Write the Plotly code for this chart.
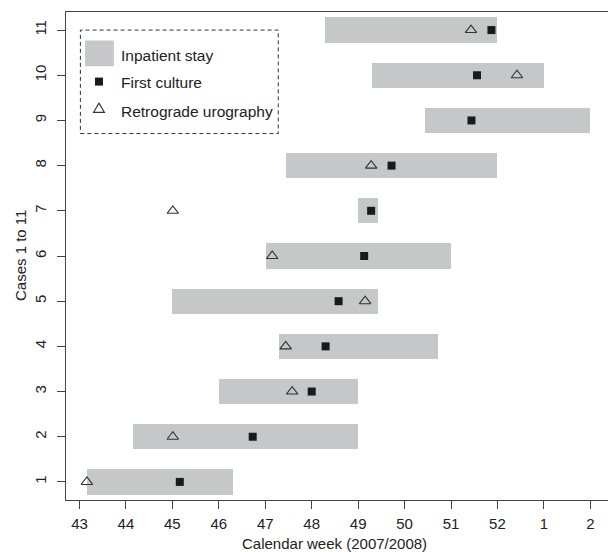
import plotly.graph_objects as go

cases = [1, 2, 3, 4, 5, 6, 7, 8, 9, 10, 11]
stay_start = [43.16, 44.15, 46.00, 47.30, 45.00, 47.02, 49.00, 47.44, 50.44, 49.29, 48.29]
stay_end = [46.30, 49.00, 49.00, 50.72, 49.43, 51.00, 49.43, 52.00, 54.00, 53.00, 52.00]
first_culture = [45.16, 46.73, 48.00, 48.30, 48.58, 49.13, 49.28, 49.72, 51.44, 51.56, 51.87]
urography = [43.16, 45.01, 47.58, 47.44, 49.15, 47.15, 45.01, 49.28, None, 52.42, 51.43]

week_pos = [43, 44, 45, 46, 47, 48, 49, 50, 51, 52, 53, 54]
week_labels = ["43", "44", "45", "46", "47", "48", "49", "50", "51", "52", "1", "2"]

GRAY = "#c6c7c9"
INK = "#222222"
AX = "#444444"
FONT = "Liberation Sans, Arial, Helvetica, sans-serif"

fig = go.Figure()
fig.add_trace(go.Bar(
    y=cases, x=[e - s for s, e in zip(stay_start, stay_end)], base=stay_start,
    orientation="h", width=0.56, marker=dict(color=GRAY, line=dict(width=0)),
    showlegend=False, hoverinfo="skip"))
fig.add_trace(go.Scatter(
    x=first_culture, y=cases, mode="markers",
    marker=dict(symbol="square", size=8, color="#1a1a1a", line=dict(width=0)),
    showlegend=False))
fig.add_trace(go.Scatter(
    x=urography, y=cases, mode="markers",
    marker=dict(symbol="triangle-up-open", size=10, color="#333333", line=dict(width=1.1, color="#333333")),
    showlegend=False))

shapes = [
    # legend box
    dict(type="rect", xref="x", yref="y", x0=43.02, x1=47.28, y0=8.71, y1=11.0,
         line=dict(color="#333333", width=1, dash="4px,3px"), fillcolor="rgba(0,0,0,0)", layer="above"),
    dict(type="rect", xref="x", yref="y", x0=43.12, x1=43.74, y0=10.2, y1=10.77,
         line=dict(width=0), fillcolor=GRAY),
    dict(type="rect", xref="x", yref="y", xsizemode="pixel", ysizemode="pixel",
         xanchor=43.42, yanchor=9.86, x0=-4, x1=4, y0=-4, y1=4,
         line=dict(width=0), fillcolor="#1a1a1a"),
    dict(type="path", xref="x", yref="y", xsizemode="pixel", ysizemode="pixel",
         xanchor=43.42, yanchor=9.25, path="M-5.5,-3.2 L5.5,-3.2 L0,6 Z",
         line=dict(width=1.1, color="#333333"), fillcolor="rgba(0,0,0,0)"),
]

annotations = [
    dict(text="Inpatient stay", x=43.86, y=10.44, xref="x", yref="y", xanchor="left", yanchor="middle",
         showarrow=False, font=dict(size=15.5, color=INK, family=FONT)),
    dict(text="First culture", x=43.86, y=9.83, xref="x", yref="y", xanchor="left", yanchor="middle",
         showarrow=False, font=dict(size=15.5, color=INK, family=FONT)),
    dict(text="Retrograde urography", x=43.86, y=9.2, xref="x", yref="y", xanchor="left", yanchor="middle",
         showarrow=False, font=dict(size=15.5, color=INK, family=FONT)),
    dict(text="Calendar week (2007/2008)", x=0.495, y=0, xref="paper", yref="paper",
         xanchor="center", yanchor="middle", yshift=-43, showarrow=False,
         font=dict(size=15, color=INK, family=FONT)),
    dict(text="Cases 1 to 11", x=0, y=0.5, xref="paper", yref="paper", textangle=-90,
         xanchor="center", yanchor="middle", xshift=-46, showarrow=False,
         font=dict(size=15, color=INK, family=FONT)),
]

fig.update_layout(
    width=608, height=552,
    margin=dict(l=66, r=0, t=12, b=52),
    paper_bgcolor="white", plot_bgcolor="white",
    font=dict(family=FONT, size=15, color=INK),
    shapes=shapes, annotations=annotations,
    bargap=0, showlegend=False,
    xaxis=dict(range=[42.71, 54.38], tickmode="array", tickvals=week_pos, ticktext=week_labels,
               showgrid=False, zeroline=False, showline=True, mirror=True, linecolor=AX, linewidth=1,
               ticks="outside", ticklen=8, tickcolor=AX, tickwidth=1, ticklabelstandoff=2,
               tickfont=dict(size=15, color=INK, family=FONT)),
    yaxis=dict(range=[0.6, 11.4], tickmode="array", tickvals=cases, ticktext=[str(c) for c in cases],
               showgrid=False, zeroline=False, showline=True, mirror=False, linecolor=AX, linewidth=1,
               ticks="outside", ticklen=8, tickcolor=AX, tickwidth=1, tickangle=-90, ticklabelstandoff=5,
               tickfont=dict(size=15, color=INK, family=FONT)),
)

fig.write_html("out.html", config={"displayModeBar": False},
               post_script="document.body.style.margin='0px';document.body.style.overflow='hidden';")
